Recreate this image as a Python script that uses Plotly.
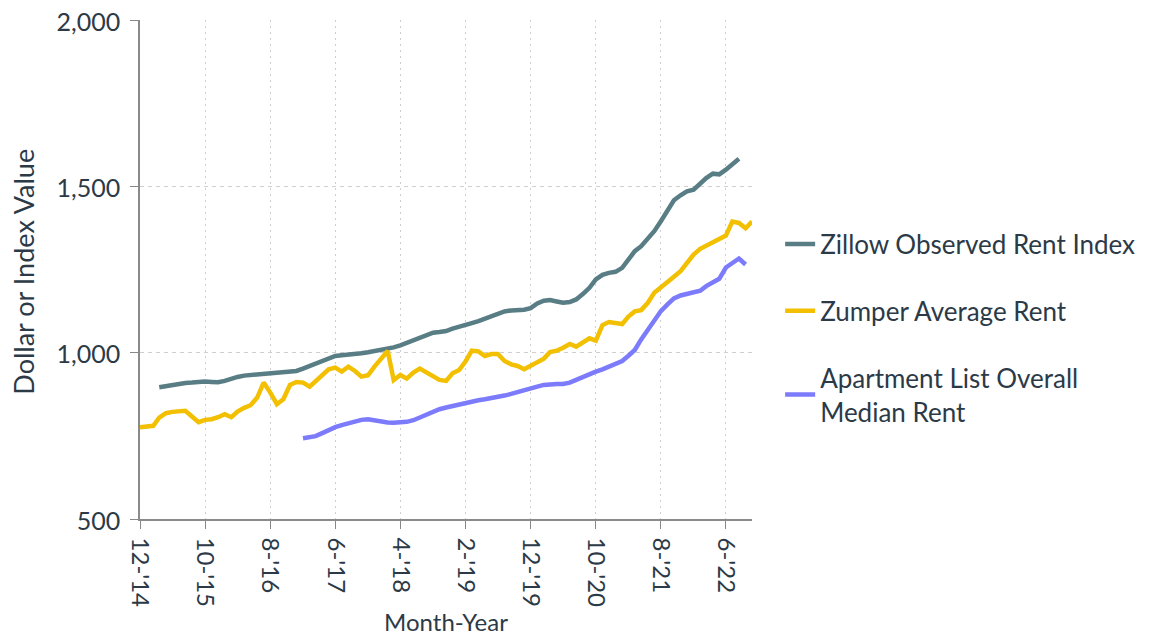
import pandas as pd
import plotly.graph_objects as go

# ---- data (monthly) ----
zillow_start = "2015-03-01"
zillow = [896, 900, 904, 907, 909, 910, 912, 913, 912, 911, 915, 922, 927, 931, 933, 935, 935, 936,
          940, 943, 943, 945, 952, 960, 967, 974, 982, 990, 992, 993, 995, 998, 1001, 1004, 1007, 1010,
          1016, 1022, 1030, 1038, 1047, 1055, 1060, 1062, 1065, 1072, 1079, 1084, 1089, 1095, 1102,
          1108, 1115, 1124, 1127, 1127, 1129, 1134, 1148, 1156, 1158, 1154, 1150, 1152, 1160, 1176,
          1195, 1220, 1234, 1240, 1243, 1255, 1280, 1305, 1320, 1342, 1365, 1395, 1430, 1458, 1473,
          1485, 1490, 1508, 1525, 1538, 1536, 1550, 1567, 1583]

zumper_start = "2014-12-01"
zumper = [776, 777, 780, 805, 818, 822, 823, 825, 808, 791, 798, 800, 806, 815, 806, 823, 834, 842,
          865, 910, 880, 845, 860, 903, 912, 910, 898, 915, 932, 950, 955, 943, 958, 945, 928, 932,
          958, 983, 1005, 918, 933, 922, 940, 952, 940, 928, 918, 915, 938, 948, 975, 1006, 1004, 990,
          996, 996, 975, 965, 960, 950, 960, 968, 982, 1002, 1006, 1015, 1026, 1018, 1030, 1043, 1036,
          1083, 1092, 1090, 1086, 1108, 1124, 1128, 1150, 1180, 1195, 1212, 1228, 1245, 1268, 1295,
          1312, 1322, 1333, 1340, 1352, 1394, 1390, 1374, 1394]

aptlist_start = "2017-01-01"
aptlist = [743, 745, 749, 758, 768, 776, 782, 788, 793, 798, 800, 796, 793, 790, 789, 789, 792, 797,
           806, 813, 822, 830, 835, 840, 843, 847, 852, 857, 860, 863, 866, 871, 876, 882, 888, 893,
           898, 903, 906, 906, 906, 910, 918, 927, 935, 943, 950, 958, 967, 975, 990, 1008, 1040, 1070,
           1093, 1125, 1145, 1163, 1172, 1176, 1180, 1186, 1200, 1213, 1222, 1256, 1268, 1283, 1265]

y_ticks = [500, 1000, 1500, 2000]
tick_vals = ["2014-12-01", "2015-10-01", "2016-08-01", "2017-06-01", "2018-04-01",
             "2019-02-01", "2019-12-01", "2020-10-01", "2021-08-01", "2022-06-01"]
tick_text = ["12-'14", "10-'15", "8-'16", "6-'17", "4-'18", "2-'19", "12-'19", "10-'20", "8-'21", "6-'22"]

series = [
    ("Zillow Observed Rent Index", zillow_start, zillow, "#587d84"),
    ("Zumper Average Rent", zumper_start, zumper, "#f2c000"),
    ("Apartment List Overall<br>Median Rent", aptlist_start, aptlist, "#7b7bfb"),
]

fig = go.Figure()
for i, (name, start, vals, color) in enumerate(series):
    x = pd.date_range(start, periods=len(vals), freq="MS")
    fig.add_trace(go.Scatter(x=x, y=vals, mode="lines", name=name, legendgroup=f"g{i}",
                             line=dict(color=color, width=4.5)))

txt = "#2c3a47"
font = "Lato, 'Open Sans', sans-serif"
fig.update_layout(
    width=1157, height=635,
    margin=dict(l=132, r=413, t=12, b=124, autoexpand=False),
    paper_bgcolor="white", plot_bgcolor="white",
    font=dict(family=font, color=txt),
    showlegend=True,
    legend=dict(x=1.046, xanchor="left", y=0.598, yanchor="top",
                font=dict(size=26, color=txt, family=font),
                traceorder="grouped", tracegroupgap=30,
                bgcolor="rgba(0,0,0,0)"),
    annotations=[dict(text="Dollar or Index Value", xref="paper", yref="paper",
                      x=-0.19, y=0.495, xanchor="center", yanchor="middle",
                      textangle=-90, showarrow=False,
                      font=dict(size=27, color=txt, family=font))],
)
fig.update_xaxes(
    type="date", range=["2014-12-01", "2022-10-01"], automargin=False,
    tickmode="array", tickvals=tick_vals, ticktext=tick_text, tickangle=90,
    tickfont=dict(size=24, color=txt), ticks="outside", ticklen=8, tickcolor="#888",
    ticklabelstandoff=4, ticklabeloverflow="allow",
    showline=True, linecolor="#8a8a8a", linewidth=1.5,
    showgrid=True, gridcolor="#cfcfcf", gridwidth=1, griddash="2px,4px",
    title=dict(text="Month-Year", font=dict(size=24, color=txt), standoff=8),
    zeroline=False,
)
fig.update_yaxes(
    range=[500, 2000], tickmode="array", tickvals=y_ticks, tickformat=",", automargin=False,
    tickfont=dict(size=25, color=txt), ticks="outside", ticklen=8, tickcolor="#888",
    ticklabelstandoff=5, ticklabeloverflow="allow", ticklabelshift=2,
    showline=True, linecolor="#8a8a8a", linewidth=1.5,
    showgrid=True, gridcolor="#cfcfcf", gridwidth=1, griddash="4px,4px",
    zeroline=False,
)
fig.write_html("out.html")
